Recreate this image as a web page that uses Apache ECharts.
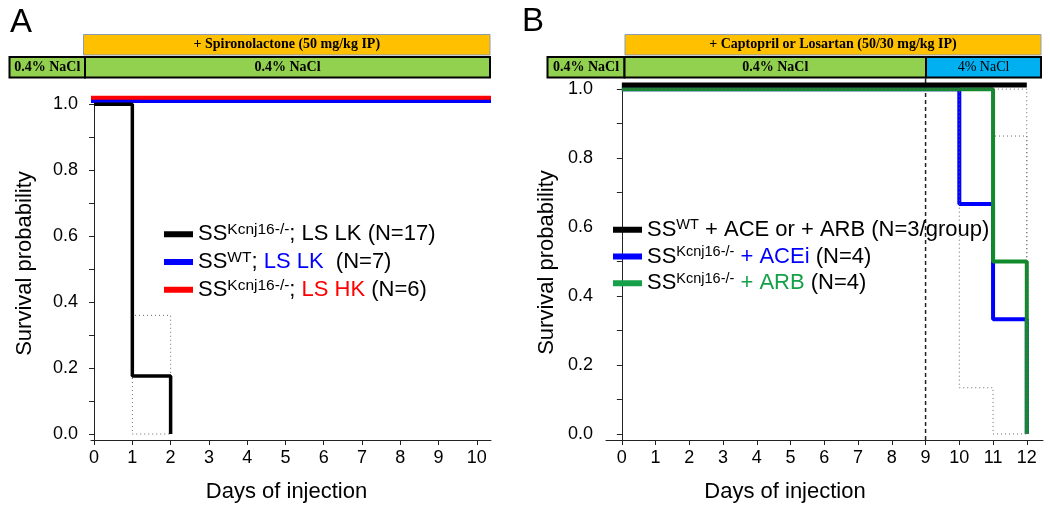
<!DOCTYPE html>
<html>
<head>
<meta charset="utf-8">
<script src="https://cdn.jsdelivr.net/npm/echarts@6/dist/echarts.min.js"></script>
<style>html,body{margin:0;padding:0;background:#fff}#c{width:1050px;height:513px}</style>
</head>
<body>
<div id="c"></div>
<script>
// ---------- data ----------
// Panel A (Kaplan-Meier, step at event days)
const A_kcnj16_LSLK = [[0, 1], [1, 0.176], [2, 0]];
const A_wt_LSLK     = [[-0.08, 1.01], [10.37, 1.01]];
const A_kcnj16_LSHK = [[-0.08, 1.02], [10.37, 1.02]];
const A_ci_upper    = [[0, 1], [1, 0.36], [2, 0]];
const A_ci_lower    = [[0, 1], [1, 0], [2, 0]];
// Panel B
const B_wt          = [[0, 1.012], [12, 1.012]];
const B_kcnj16_ACEi = [[0, 1], [10, 0.667], [11, 0.333], [12, 0]];
const B_kcnj16_ARB  = [[0, 1], [11, 0.5], [12, 0]];
const B_ci_upper1   = [[0, 1], [11, 0.864], [12, 0]];
const B_ci_upper2   = [[0, 1], [12, 0]];
const B_ci_lower    = [[0, 1], [10, 0.134], [11, 0], [12, 0]];
const B_day9        = [[9, -0.0175], [9, 1.038]];
// ticks
const xTicksA = [0,1,2,3,4,5,6,7,8,9,10];
const xTicksB = [0,1,2,3,4,5,6,7,8,9,10,11,12];
const yTicks  = [0,0.1,0.2,0.3,0.4,0.5,0.6,0.7,0.8,0.9,1.0];
const yLabels = [0,0.2,0.4,0.6,0.8,1.0];
// legend labels
const namesA = ['A1','A2','A3'];
const legendTextA = {
  A1: '{n|SS}{s|Kcnj16-/-}{n|; LS LK (N=17)}',
  A2: '{n|SS}{s|WT}{n|; }{b|LS LK}{n|  (N=7)}',
  A3: '{n|SS}{s|Kcnj16-/-}{n|; }{r|LS HK}{n| (N=6)}'
};
const namesB = ['B1','B2','B3'];
const legendTextB = {
  B1: '{n|SS}{s|WT}{n| + ACE or + ARB (N=3/group)}',
  B2: '{n|SS}{s|Kcnj16-/-}{b| + ACEi}{n| (N=4)}',
  B3: '{n|SS}{s|Kcnj16-/-}{g| + ARB}{n| (N=4)}'
};
// annotation bar labels
const barA = {drug: '+ Spironolactone (50 mg/kg IP)', pre: '0.4% NaCl', main: '0.4% NaCl'};
const barB = {drug: '+ Captopril or Losartan (50/30 mg/kg IP)', pre: '0.4% NaCl', main: '0.4% NaCl', hs: '4% NaCl'};

// ---------- styles ----------
const FONT = 'Liberation Sans, Arial, sans-serif';
const SERIF = 'Liberation Serif, Times New Roman, serif';
const C_BLUE = '#0000ff', C_RED = '#ff0000', C_GREEN = '#17a04a', C_GREEN_LINE = '#118a2c';
function richFor(fs, lh, sfs, slh) {
  const base = {fontSize: fs, lineHeight: lh, fontFamily: FONT};
  return {
    n: Object.assign({color: '#000'}, base),
    s: {fontSize: sfs, lineHeight: slh, verticalAlign: 'top', fontFamily: FONT, color: '#000'},
    b: Object.assign({color: C_BLUE}, base),
    r: Object.assign({color: C_RED}, base),
    g: Object.assign({color: C_GREEN}, base)
  };
}

function xAxis(gi, min, max, ticks, padRight) {
  return {
    type: 'value', gridIndex: gi, min, max,
    name: 'Days of injection', nameLocation: 'middle', nameGap: 41,
    nameTextStyle: {fontSize: 22, fontFamily: FONT, color: '#000', padding: [0, padRight, 0, 0]},
    axisLine: {onZero: false, lineStyle: {color: '#222', width: 1}},
    axisTick: {show: true, inside: false, length: 5, customValues: ticks, lineStyle: {color: '#222'}},
    axisLabel: {customValues: ticks, margin: 9, fontSize: 18, fontFamily: FONT, color: '#000'},
    splitLine: {show: false}
  };
}
function yAxis(gi, min, max, gap, padLeft) {
  return {
    type: 'value', gridIndex: gi, min, max,
    name: 'Survival probability', nameLocation: 'middle', nameGap: gap,
    nameTextStyle: {fontSize: 22, fontFamily: FONT, color: '#000', padding: [0, 0, 0, padLeft]},
    axisLine: {show: true, lineStyle: {color: '#222', width: 1}},
    axisTick: {show: true, inside: false, length: 5, customValues: yTicks, lineStyle: {color: '#222'}},
    axisLabel: {customValues: yLabels, margin: 13, fontSize: 18, fontFamily: FONT, color: '#000',
      formatter: v => v.toFixed(1)},
    splitLine: {show: false}
  };
}
function km(name, data, gi, color, width, extra) {
  return Object.assign({
    name, type: 'line', xAxisIndex: gi, yAxisIndex: gi, data, step: 'end',
    symbol: 'none', clip: false, z: 3,
    itemStyle: {color}, lineStyle: {color, width}
  }, extra || {});
}
function dotted(data, gi, z) {
  return {
    type: 'line', xAxisIndex: gi, yAxisIndex: gi, data, step: 'end', symbol: 'none', clip: false,
    z: z, silent: true, lineStyle: {color: '#666', width: 1, type: [1, 3]}
  };
}
function box(x, y, w, h, fill, stroke, lw, text, bold) {
  return {
    type: 'rect', shape: {x, y, width: w, height: h},
    style: {fill, stroke, lineWidth: lw},
    textContent: {style: {text, fontSize: 14, fontWeight: bold ? 'bold' : 'normal', fontFamily: SERIF, fill: '#000'}},
    textConfig: {position: 'inside'}
  };
}

const chart = echarts.init(document.getElementById('c'), null, {renderer: 'canvas'});
chart.setOption({
  animation: false,
  backgroundColor: '#fff',
  grid: [
    {left: 91, top: 101, width: 400, height: 339},
    {left: 606, top: 85, width: 437, height: 355}
  ],
  xAxis: [xAxis(0, -0.08, 10.37, xTicksA, 9), xAxis(1, -0.47, 12.48, xTicksB, 79)],
  yAxis: [yAxis(0, -0.018, 1.01, 55, 14), yAxis(1, -0.0175, 1.012, 48, 0)],
  legend: [
    {data: namesA, orient: 'vertical', left: 164, top: 222, padding: 0, itemWidth: 29, itemHeight: 6, itemGap: 4.5,
     icon: 'rect', selectedMode: false, formatter: n => legendTextA[n], textStyle: {rich: richFor(22, 24.5, 15.5, 18.5)}},
    {data: namesB, orient: 'vertical', left: 613, top: 217.5, padding: 0, itemWidth: 29, itemHeight: 6, itemGap: 3.5,
     icon: 'rect', selectedMode: false, formatter: n => legendTextB[n], textStyle: {rich: richFor(22, 24.5, 14.5, 19)}}
  ],
  series: [
    dotted(A_ci_upper, 0, 2),
    dotted(A_ci_lower, 0, 2),
    km('A2', A_wt_LSLK, 0, C_BLUE, 4, {step: false}),
    km('A3', A_kcnj16_LSHK, 0, C_RED, 4, {step: false}),
    km('A1', A_kcnj16_LSLK, 0, '#000', 3.5),
    {type: 'line', xAxisIndex: 1, yAxisIndex: 1, data: B_day9, symbol: 'none', clip: false, z: 2,
     lineStyle: {color: '#222', width: 1.5, type: [4, 3]}},
    km('B2', B_kcnj16_ACEi, 1, C_BLUE, 4),
    km('B3', B_kcnj16_ARB, 1, C_GREEN, 4, {lineStyle: {color: C_GREEN_LINE, width: 4}}),
    km('B1', B_wt, 1, '#000', 5, {step: false}),
    dotted(B_ci_upper1, 1, 5),
    dotted(B_ci_upper2, 1, 5),
    dotted(B_ci_lower, 1, 5)
  ],
  graphic: [
    {type: 'text', style: {text: 'A', x: 10, y: 23, fontSize: 33, fontFamily: FONT, fill: '#000', verticalAlign: 'middle'}},
    {type: 'text', style: {text: 'B', x: 522, y: 22, fontSize: 33, fontFamily: FONT, fill: '#000', verticalAlign: 'middle'}},
    box(83.5, 34.5, 406.5, 20.5, '#ffc000', '#8c9bb5', 1, barA.drug, true),
    box(9.5, 57, 75.5, 20.5, '#92d050', '#000', 2, barA.pre, true),
    box(85, 57, 405, 20.5, '#92d050', '#000', 2, barA.main, true),
    box(625, 34.5, 416, 20.5, '#ffc000', '#8c9bb5', 1, barB.drug, true),
    box(547.5, 57, 77, 20.5, '#92d050', '#000', 2, barB.pre, true),
    box(624.5, 57, 301.5, 20.5, '#92d050', '#000', 2, barB.main, true),
    box(926, 57, 115, 20.5, '#00b0f0', '#000', 2, barB.hs, false)
  ]
});
</script>
</body>
</html>
